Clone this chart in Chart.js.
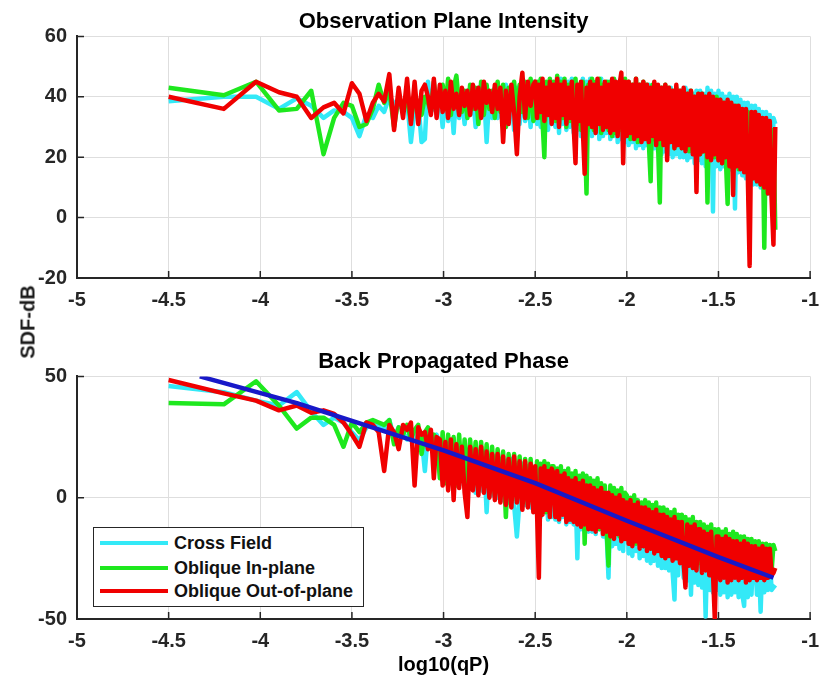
<!DOCTYPE html>
<html>
<head>
<meta charset="utf-8">
<script src="https://cdn.jsdelivr.net/npm/chart.js@4.4.1/dist/chart.umd.min.js"></script>
<style>
    html, body { margin: 0; padding: 0; background: #fff; }
    body { width: 829px; height: 690px; position: relative; overflow: hidden; font-family: 'Liberation Sans', Arial, sans-serif; }
    #intensity-chart { position: absolute; left: 0; top: 0; }
    #phase-chart { position: absolute; left: 0; top: 330px; }
    .y-label { position: absolute; left: 28px; top: 322px; transform: translate(-50%, -50%) rotate(-90deg); font-weight: bold; font-size: 20px; color: #1a1a1a; white-space: nowrap; }
    .legend { position: absolute; left: 93px; top: 527px; width: 271px; height: 80px; box-sizing: border-box; border: 1.5px solid #262626; background: #fff; }
    .legend-row { position: absolute; left: 0; right: 0; height: 22px; line-height: 22px; font-weight: bold; font-size: 18px; color: #111; }
    .legend-row span { position: absolute; left: 6px; top: 9px; width: 68px; height: 4px; }
    .legend-row b { position: absolute; left: 80px; top: 0; }
</style>
</head>
<body>
<canvas id="intensity-chart" width="829" height="330"></canvas>
<canvas id="phase-chart" width="829" height="360"></canvas>
<div class="y-label">SDF-dB</div>
<div class="legend">
    <div class="legend-row" style="top:4px"><span style="background:#33e9f7"></span><b>Cross Field</b></div>
    <div class="legend-row" style="top:29px"><span style="background:#1ee81e"></span><b>Oblique In-plane</b></div>
    <div class="legend-row" style="top:52px"><span style="background:#f00000"></span><b>Oblique Out-of-plane</b></div>
</div>
<script>
// log10(qP) sample positions: sparse at low q, thinned out where the data gets dense
const Q_LOG = [
    -4.5, -4.199, -4.023, -3.898, -3.801, -3.722, -3.655, -3.597, -3.546, -3.5,
    -3.459, -3.421, -3.386, -3.354, -3.324, -3.296, -3.27, -3.245, -3.221, -3.199,
    -3.178, -3.158, -3.138, -3.12, -3.102, -3.085, -3.069, -3.053, -3.038,
    -3.02, -3.005, -2.99, -2.975, -2.96, -2.945, -2.93, -2.915, -2.9, -2.885,
    -2.87, -2.855, -2.84, -2.825, -2.81, -2.795, -2.78, -2.765, -2.75, -2.735,
    -2.72, -2.705, -2.69, -2.675, -2.66, -2.645, -2.63, -2.615, -2.6, -2.585,
    -2.57, -2.555, -2.54, -2.525, -2.51,
    -2.5, -2.49, -2.48, -2.47, -2.46, -2.45, -2.44, -2.43, -2.42, -2.41,
    -2.4, -2.39, -2.38, -2.37, -2.36, -2.35, -2.34, -2.33, -2.32, -2.31,
    -2.3, -2.29, -2.28, -2.27, -2.26, -2.25, -2.24, -2.23, -2.22, -2.21,
    -2.2, -2.19, -2.18, -2.17, -2.16, -2.15, -2.14, -2.13, -2.12, -2.11,
    -2.1, -2.09, -2.08, -2.07, -2.06, -2.05, -2.04, -2.03, -2.02, -2.01,
    -2.0, -1.99, -1.98, -1.97, -1.96, -1.95, -1.94, -1.93, -1.92, -1.91,
    -1.9, -1.89, -1.88, -1.87, -1.86, -1.85, -1.84, -1.83, -1.82, -1.81,
    -1.8, -1.79, -1.78, -1.77, -1.76, -1.75, -1.74, -1.73, -1.72, -1.71,
    -1.7, -1.69, -1.68, -1.67, -1.66, -1.65, -1.64, -1.63, -1.62, -1.61,
    -1.6, -1.59, -1.58, -1.57, -1.56, -1.55, -1.54, -1.53, -1.52, -1.51,
    -1.5, -1.49, -1.48, -1.47, -1.46, -1.45, -1.44, -1.43, -1.42, -1.41,
    -1.4, -1.39, -1.38, -1.37, -1.36, -1.35, -1.34, -1.33, -1.32, -1.31,
    -1.3, -1.29, -1.28, -1.27, -1.26, -1.25, -1.24, -1.23, -1.22, -1.21,
    -1.2, -1.19,
];

// Observation Plane Intensity (dB)
const intensityCross = [
    38.5, 40, 40, 36, 39.5, 37, 33, 35.5, 35, 33,
    27, 34, 33, 37, 35, 40, 38, 37, 36, 39,
    25, 36, 38, 25, 26, 45, 35, 37, 40,
    40, 30, 42, 32, 41, 28, 43, 33, 40, 31,
    42, 34, 41, 30, 43, 35, 42, 25, 41, 33,
    43, 33, 42, 30, 44, 32, 41, 29, 43, 31,
    44, 32, 43, 30, 45,
    44, 31, 45, 30, 43, 32, 44, 29, 45, 31,
    44, 30, 45, 28, 46, 31, 44, 29, 45, 30,
    46, 28, 45, 29, 44, 27, 46, 28, 45, 29,
    46, 27, 44, 28, 45, 26, 46, 27, 44, 28,
    45, 26, 44, 27, 45, 25, 43, 26, 44, 25,
    44, 24, 43, 25, 44, 23, 43, 24, 44, 23,
    43, 24, 44, 22, 43, 23, 42, 22, 43, 21,
    43, 22, 42, 21, 43, 20, 42, 21, 41, 20,
    42, 20, 43, 19, 42, 20, 41, 18, 42, 19,
    42, 18, 41, 17, 43, 18, 42, 2, 41, 17,
    42, 16, 41, 17, 40, 15, 41, 16, 40, 3,
    40, 15, 39, 14, 38, 13, 38, 12, 37, 11,
    37, 11, 36, 10, 35, 9, 35, 8, 34, 7,
    33, 31,
];
const intensityInPlane = [
    43, 40.5, 45, 35.5, 36, 42, 21, 33, 38, 37,
    30, 31, 36, 44, 38, 42, 30, 40, 36, 39,
    32, 41, 37, 34, 40, 38, 35, 45, 37,
    38, 44, 36, 46, 34, 43, 47, 37, 35, 42,
    33, 44, 36, 43, 31, 45, 34, 44, 36, 42,
    33, 45, 35, 44, 30, 43, 36, 45, 34, 44,
    35, 45, 33, 46, 32,
    34, 45, 33, 46, 32, 20, 45, 34, 46, 33,
    45, 32, 47, 31, 45, 33, 46, 30, 44, 32,
    45, 30, 46, 31, 44, 29, 45, 30, 8, 44,
    30, 46, 29, 45, 31, 46, 28, 44, 30, 45,
    29, 45, 27, 46, 28, 44, 29, 45, 27, 46,
    28, 45, 26, 44, 27, 46, 25, 44, 26, 45,
    27, 44, 25, 12, 44, 26, 43, 25, 5, 43,
    25, 44, 24, 43, 26, 42, 23, 43, 25, 42,
    23, 42, 24, 41, 22, 42, 23, 40, 22, 41,
    21, 41, 22, 40, 5, 40, 21, 39, 20, 40,
    19, 39, 18, 38, 20, 4.5, 38, 17, 37, 18,
    37, 16, 36, 17, 35, 15, 35, 14, 34, 13,
    34, 12, 33, 11, 32, -10, 32, 9, 31, 8,
    29, -4,
];
const intensityOutPlane = [
    40, 36, 45, 41.5, 40, 33, 36.5, 38, 34.5, 44.5,
    41, 32, 38, 41, 38.5, 47.5, 29, 43, 33, 46,
    31, 45, 31, 42, 44, 40, 34, 46, 33,
    44, 35, 42, 33, 45, 36, 41, 34, 43, 37,
    42, 34, 44, 36, 43, 33, 45, 38, 42, 35,
    44, 36, 43, 25, 42, 31, 44, 35, 21, 40,
    48, 33, 45, 37, 44,
    45, 33, 44, 35, 46, 32, 43, 34, 45, 31,
    44, 33, 46, 30, 44, 34, 45, 31, 43, 33,
    45, 30, 18, 44, 32, 45, 29, 14.5, 43, 31,
    45, 30, 44, 28, 46, 31, 43, 29, 45, 30,
    44, 28, 46, 29, 45, 27, 44, 48, 18, 45,
    27, 45, 28, 44, 26, 46, 27, 44, 25, 45,
    26, 44, 25, 43, 27, 45, 24, 44, 26, 43,
    24, 44, 19, 43, 25, 42, 23, 44, 24, 42,
    23, 43, 22, 41, 24, 42, 21, 40, 8.5, 41,
    21, 41, 22, 40, 20, 41, 19, 40, 21, 39,
    19, 39, 18, 38, 20, 39, 17, 38, 7.5, 37,
    17, 37, 16, 36, 15, 36, 14, -16, 35, 13,
    35, 12, 34, 11, 33, 10, 33, 8, 32, 6,
    -9, 30,
];

// Back Propagated Phase (dB)
const phaseCross = [
    46, 43.5, 40, 38, 43.5, 35.5, 30, 33, 31, 27,
    23.7, 29, 31, 30, 28, 32, 25, 29, 27, 24,
    28, 26, 22, 25, 11, 27, 24, 20, 26,
    22, 7, 21, 5, 22, 6, 20, 5, 21, 4,
    19, 4, 20, 2, 18, 3, 19, -6, 17, 1,
    17, 0, 16, -1, 15, -2, 16, -3, -16, -1,
    14, -3, 13, -4, 12,
    10, -7, 9, -8, 10, -6, 8, -9, 9, -8,
    7, -9, 8, -10, 6, -8, 7, -11, 5, -10,
    5, -11, 4, -25, 5, -13, 4, -12, 3, -14,
    2, -14, 1, -15, 2, -13, 0, -16, -1, -15,
    -33, -1, -20, -2, -19, -3, -21, -2, -22, -4,
    -4, -23, -5, -24, -6, -22, -5, -25, -7, -24,
    -7, -26, -8, -27, -9, -26, -8, -28, -10, -29,
    -10, -29, -11, -30, -12, -31, -42, -11, -32, -13,
    -13, -33, -14, -34, -15, -40, -14, -35, -16, -36,
    -16, -37, -17, -49, -18, -38, -17, -39, -19, -38,
    -19, -40, -20, -39, -20, -41, -21, -40, -21, -39,
    -22, -41, -22, -40, -44.6, -23, -41, -23, -40, -24,
    -24, -40, -25, -47, -25, -39, -25, -38, -26, -38,
    -37, -36,
];
const phaseInPlane = [
    39, 38.5, 48, 38, 28.5, 33, 33, 30, 21, 31,
    27, 31, 32, 31, 30, 32, 22, 29, 26, 30,
    24, 28, 30, 18, 27, 29, 22, 26, 24,
    8, 27, 6, 26, 9, 25, 5, 26, 7, 24,
    4, 24, 6, 23, 3, 23, 5, 22, 2, 21,
    1, 20, 3, 19, -8, 18, 0, 18, -1, 17,
    -2, 16, -3, 16, -4,
    -4, 15, -5, 14, -3, 15, -6, 14, -4, 13,
    13, -6, 12, -7, 13, -5, 11, -8, 12, -7,
    10, -8, 11, -9, 9, -10, 10, -19, 9, -11,
    8, -11, 7, -12, 8, -13, 6, -12, 5, -14,
    -28, 5, -14, 4, -15, 3, -16, 4, -17, 2,
    1, -17, 0, -18, 1, -19, -1, -18, -2, -20,
    -1, -20, -2, -21, -3, -22, -2, -21, -4, -23,
    -4, -23, -5, -24, -6, -25, -5, -24, -7, -26,
    -7, -26, -8, -25, -9, -27, -8, -28, -10, -27,
    -10, -29, -11, -28, -12, -30, -11, -29, -13, -31,
    -13, -30, -14, -32, -13, -31, -15, -32, -14, -31,
    -15, -32, -16, -31, -16, -33, -17, -32, -17, -31,
    -18, -32, -18, -31, -19, -32, -19, -31, -19.5, -30,
    -19.5, -22,
];
const phaseOutPlane = [
    48.5, 43, 40, 36, 38, 35, 36, 34.5, 31, 26,
    21, 31, 30, 27, 11, 30, 27, 20, 30, 28,
    31, 5, 29, 26, 27, 20, 28, 8, 25,
    24, 5, 23, 3, 24, -1, 22, 4, 21, 2,
    -8, 21, 3, 20, 1, 21, 2, 19, 0, 18,
    -1, 18, -2, 17, -3, 16, -4, 17, -2, 15,
    -5, 15, -4, 14, -6,
    13, -6, -33, 12, -7, 13, -5, 11, -8, 12,
    10, -8, 11, -9, 9, -7, 10, -10, 8, -9,
    7, -10, 8, -11, 6, -12, 7, -11, 5, -13,
    5, -13, 4, -14, 3, -12, 4, -15, 2, -14,
    2, -16, 1, -17, 0, -15, 1, -18, -1, -17,
    -2, -19, -1, -20, -3, -18, -2, -21, -4, -20,
    -4, -22, -5, -21, -6, -23, -5, -22, -7, -24,
    -7, -25, -8, -24, -9, -26, -8, -25, -10, -27,
    -10, -27, -37, -11, -28, -12, -29, -11, -30, -13,
    -13, -31, -14, -30, -15, -32, -14, -31, -50, -16,
    -16, -34, -17, -33, -16, -35, -17, -34, -18, -33,
    -18, -34, -19, -33, -18, -35, -19, -34, -20, -33,
    -20, -34, -21, -33, -20, -34, -21, -33, -21, -32,
    -31, -29,
];

// fitted slope over the phase spectrum
const fitQLog = [-4.33, -3.8, -3.0, -2.5, -2.0, -1.5, -1.2];
const fitValues = [50, 39, 19.5, 6, -9.5, -24.5, -33];

const X_TICKS = { min: -5, max: -1, step: 0.5 };

const fontFamily = "'Liberation Sans', Arial, sans-serif";
const tickFont = { family: fontFamily, size: 20, weight: 'bold' };

const colors = {
    cross: '#33e9f7',
    inPlane: '#1ee81e',
    outPlane: '#f00000',
    fit: '#1818c8',
};

const toPoints = (xs, ys) => xs.map((x, i) => ({ x, y: ys[i] }));

const series = (label, xs, ys, color, order) => ({
    label,
    data: toPoints(xs, ys),
    borderColor: color,
    backgroundColor: color,
    borderWidth: 4.5,
    borderJoinStyle: 'round',
    pointRadius: 0,
    tension: 0,
    fill: false,
    order,
});

// MATLAB style tick marks pointing into the axes
const inwardTicks = {
    id: 'inwardTicks',
    afterDraw(chart) {
        const { ctx, chartArea, scales } = chart;
        ctx.save();
        ctx.strokeStyle = '#262626';
        ctx.lineWidth = 1.5;
        ctx.beginPath();
        scales.x.ticks.forEach((tick) => {
            const px = scales.x.getPixelForValue(tick.value);
            ctx.moveTo(px, chartArea.bottom);
            ctx.lineTo(px, chartArea.bottom - 7);
        });
        scales.y.ticks.forEach((tick) => {
            const py = scales.y.getPixelForValue(tick.value);
            ctx.moveTo(chartArea.left, py);
            ctx.lineTo(chartArea.left + 7, py);
        });
        ctx.stroke();
        ctx.restore();
    },
};

const buildOptions = ({ title, titleTop, yMin, yMax, yStep, axisHeight, xTitle }) => ({
    responsive: false,
    animation: false,
    layout: {
        padding: { left: 0, right: 12, top: 0, bottom: 0 },
    },
    plugins: {
        legend: { display: false },
        tooltip: { enabled: false },
        title: {
            display: true,
            text: title,
            fullSize: false,
            color: '#000',
            font: { family: fontFamily, size: 22, weight: 'bold' },
            padding: { top: titleTop, bottom: 1 },
        },
    },
    scales: {
        x: {
            type: 'linear',
            min: X_TICKS.min,
            max: X_TICKS.max,
            ticks: {
                stepSize: X_TICKS.step,
                color: '#262626',
                font: tickFont,
                padding: 10,
                maxRotation: 0,
                autoSkip: false,
                callback: (value) => String(value),
            },
            grid: { color: '#dedede', lineWidth: 1, drawTicks: false },
            border: { color: '#262626', width: 2 },
            title: xTitle ? {
                display: true,
                text: xTitle,
                color: '#000',
                font: { family: fontFamily, size: 20, weight: 'bold' },
                padding: { top: 13, bottom: 13 },
            } : { display: false },
            afterFit: (scale) => {
                scale.height = axisHeight;
            },
        },
        y: {
            type: 'linear',
            min: yMin,
            max: yMax,
            ticks: {
                stepSize: yStep,
                color: '#262626',
                font: tickFont,
                padding: 10,
            },
            grid: { color: '#dedede', lineWidth: 1, drawTicks: false },
            border: { color: '#262626', width: 2 },
            afterFit: (scale) => {
                scale.width = 77;
            },
        },
    },
});

new Chart(document.getElementById('intensity-chart'), {
    type: 'line',
    data: {
        datasets: [
            series('Cross Field', Q_LOG, intensityCross, colors.cross, 4),
            series('Oblique In-plane', Q_LOG, intensityInPlane, colors.inPlane, 3),
            series('Oblique Out-of-plane', Q_LOG, intensityOutPlane, colors.outPlane, 2),
        ],
    },
    options: buildOptions({
        title: 'Observation Plane Intensity',
        titleTop: 9,
        yMin: -20,
        yMax: 60,
        yStep: 20,
        axisHeight: 52,
    }),
    plugins: [inwardTicks],
});

new Chart(document.getElementById('phase-chart'), {
    type: 'line',
    data: {
        datasets: [
            series('Cross Field', Q_LOG, phaseCross, colors.cross, 4),
            series('Oblique In-plane', Q_LOG, phaseInPlane, colors.inPlane, 3),
            series('Oblique Out-of-plane', Q_LOG, phaseOutPlane, colors.outPlane, 2),
            series('Fit', fitQLog, fitValues, colors.fit, 1),
        ],
    },
    options: buildOptions({
        title: 'Back Propagated Phase',
        titleTop: 19,
        yMin: -50,
        yMax: 50,
        yStep: 50,
        axisHeight: 71,
        xTitle: 'log10(qP)',
    }),
    plugins: [inwardTicks],
});
</script>
</body>
</html>
